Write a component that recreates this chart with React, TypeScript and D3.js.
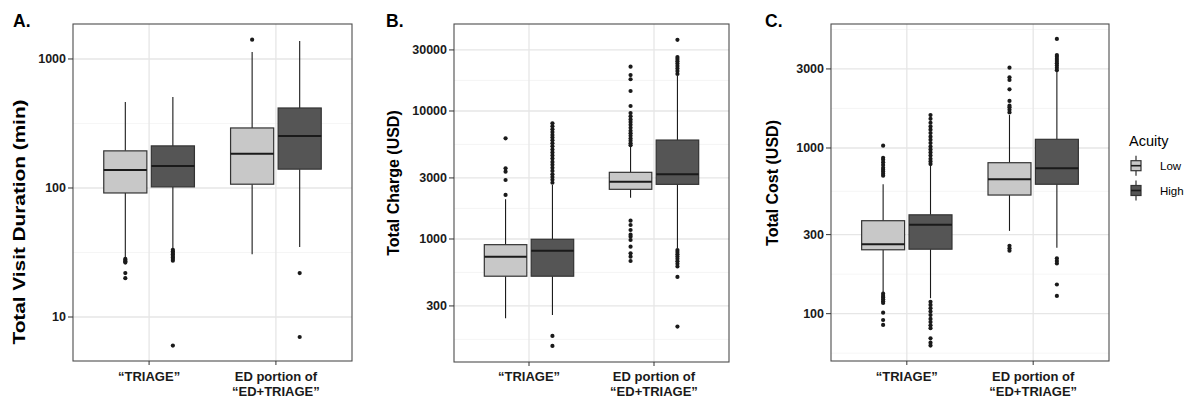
import React from "react";
import * as d3 from "d3";

const groups = ["“TRIAGE”", "ED portion of\n“ED+TRIAGE”"];
const acuityLevels = ["Low", "High"];
const acuityFill: Record<string, string> = { Low: "#c8c8c8", High: "#555555" };

// each box: [lower whisker, q1, median, q3, upper whisker], one per group
const durationLow = [[28.6, 91.5, 138, 194, 464], [30.7, 107, 184, 292, 1133]];
const durationHigh = [[34, 102, 148, 212, 507], [34.9, 140, 253, 417, 1379]];
const durationLowOut = [[28.2, 27.6, 27, 26.4, 21.9, 20], [1412]];
const durationHighOut = [[33.2, 32.3, 31.4, 30.6, 29.7, 28.9, 28.1, 27.3, 6], [21.9, 7]];
const durationTicks = [10, 100, 1000];
const durationMinor = [31.62, 316.2];

const chargeLow = [[240, 512, 728, 903, 2042], [2102, 2444, 2806, 3318, 5260]];
const chargeHigh = [[255, 512, 811, 995, 2643], [846, 2673, 3200, 5930, 18750]];
const chargeLowOut = [
  [2208, 2891, 3357, 3565, 6120],
  [5400, 5600, 5850, 6100, 6400, 6700, 7000, 7400, 7800, 8200, 8600, 9100, 9640, 10940, 14330, 17700, 19100, 22180,
    1390, 1286, 1176, 1080, 1042, 982, 871, 773, 728, 673],
];
const chargeHighOut = [
  [2750, 2900, 3050, 3200, 3400, 3600, 3800, 4000, 4250, 4500, 4750, 5000, 5300, 5600, 5900, 6200, 6500, 6850, 7200,
    7600, 8020, 175, 146],
  [19500, 20500, 21500, 22500, 23500, 24500, 25500, 26400, 36000, 820, 790, 760, 730, 700, 670, 640, 610, 505, 207],
];
const chargeTicks = [300, 1000, 3000, 10000, 30000];
const chargeMinor = [164.3, 547.7, 1732, 5477, 17320];

const costLow = [[134.6, 243, 262, 364, 604], [316, 520, 647, 815, 1581]];
const costHigh = [[124, 245, 344, 395, 789], [250, 604, 754, 1128, 2884]];
const costLowOut = [
  [681, 700, 720, 740, 760, 790, 820, 850, 873, 1033, 132, 128, 125, 122, 119, 116, 101.4, 91.6, 85.5],
  [1640, 1700, 1760, 1800, 1923, 2260, 2572, 2670, 3055, 257, 248, 240],
];
const costHighOut = [
  [800, 830, 860, 900, 940, 980, 1020, 1070, 1120, 1170, 1230, 1290, 1350, 1420, 1500, 1581,
    118, 113, 108, 103, 98, 93, 89, 85, 81.7, 71, 66.8, 64.2],
  [2950, 3050, 3150, 3250, 3350, 3450, 3550, 3640, 4550, 216, 208, 201, 150, 128],
];
const costTicks = [100, 300, 1000, 3000];
const costMinor = [57.77, 173.2, 547.7, 1732, 5195];

const panels = [
  {
    letter: "A.", letterX: 13, title: "Total Visit Duration (min)", titleX: 25, titleY: 222, titleLen: 245,
    left: 73, right: 352, top: 24, bottom: 361, domain: [4.56, 1867],
    ticks: durationTicks, minor: durationMinor,
    low: durationLow, high: durationHigh, lowOut: durationLowOut, highOut: durationHighOut,
  },
  {
    letter: "B.", letterX: 386, title: "Total Charge (USD)", titleX: 399, titleY: 183, titleLen: 0,
    left: 454, right: 729, top: 24, bottom: 362, domain: [109.4, 47830],
    ticks: chargeTicks, minor: chargeMinor,
    low: chargeLow, high: chargeHigh, lowOut: chargeLowOut, highOut: chargeHighOut,
  },
  {
    letter: "C.", letterX: 765, title: "Total Cost (USD)", titleX: 778, titleY: 183, titleLen: 0,
    left: 831, right: 1109, top: 24, bottom: 361, domain: [51.8, 5602],
    ticks: costTicks, minor: costMinor,
    low: costLow, high: costHigh, lowOut: costLowOut, highOut: costHighOut,
  },
];

const font = "'Liberation Sans', Arial, Helvetica, sans-serif";
const ink = "#1a1a1a";

function Panel({ p }: { p: any }) {
  const x = d3.scaleLinear().domain([0.4, 2.6]).range([p.left, p.right]);
  const y = d3.scaleLog().domain(p.domain).range([p.bottom, p.top]);
  const dodge = d3.scaleOrdinal<string, number>().domain(acuityLevels).range([-0.1875, 0.1875]);
  const half = 0.17;

  const boxes: any[] = [];
  groups.forEach((g, gi) => {
    acuityLevels.forEach((a) => {
      const stats = a === "Low" ? p.low[gi] : p.high[gi];
      const outs = a === "Low" ? p.lowOut[gi] : p.highOut[gi];
      boxes.push({ key: `${gi}-${a}`, cx: gi + 1 + dodge(a), a, stats, outs });
    });
  });

  return (
    <g>
      <text x={p.letterX} y={27} fontFamily={font} fontWeight="bold" fontSize={17.5} fill="#000">{p.letter}</text>
      <rect x={p.left} y={p.top} width={p.right - p.left} height={p.bottom - p.top} fill="#fff" />
      {p.minor.map((v: number) => (
        <line key={"mn" + v} x1={p.left} x2={p.right} y1={y(v)} y2={y(v)} stroke="#f0f0f0" strokeWidth={0.7} />
      ))}
      {p.ticks.map((v: number) => (
        <line key={"mj" + v} x1={p.left} x2={p.right} y1={y(v)} y2={y(v)} stroke="#e6e6e6" strokeWidth={1.3} />
      ))}
      {groups.map((g, gi) => (
        <line key={"vx" + gi} x1={x(gi + 1)} x2={x(gi + 1)} y1={p.top} y2={p.bottom} stroke="#e6e6e6" strokeWidth={1.3} />
      ))}
      {boxes.map((b) => {
        const [lo, q1, med, q3, hi] = b.stats;
        const cx = x(b.cx);
        const x0 = x(b.cx - half);
        const x1 = x(b.cx + half);
        return (
          <g key={b.key}>
            <line x1={cx} x2={cx} y1={y(hi)} y2={y(q3)} stroke={ink} strokeWidth={1.1} />
            <line x1={cx} x2={cx} y1={y(q1)} y2={y(lo)} stroke={ink} strokeWidth={1.1} />
            <rect x={x0} y={y(q3)} width={x1 - x0} height={y(q1) - y(q3)} fill={acuityFill[b.a]} stroke="#333" strokeWidth={1.2} />
            <line x1={x0} x2={x1} y1={y(med)} y2={y(med)} stroke={ink} strokeWidth={2} />
            {b.outs.map((v: number, i: number) => (
              <circle key={i} cx={cx} cy={y(v)} r={2.1} fill={ink} />
            ))}
          </g>
        );
      })}
      <rect x={p.left} y={p.top} width={p.right - p.left} height={p.bottom - p.top} fill="none" stroke="#4d4d4d" strokeWidth={1.1} />
      {p.ticks.map((v: number) => (
        <g key={"t" + v}>
          <line x1={p.left - 5} x2={p.left} y1={y(v)} y2={y(v)} stroke="#333" strokeWidth={1} />
          <text x={p.left - 7} y={y(v)} dy="0.35em" textAnchor="end" fontFamily={font} fontWeight="bold" fontSize={12.5} fill={ink}>
            {d3.format("d")(v)}
          </text>
        </g>
      ))}
      {groups.map((g, gi) => (
        <g key={"xl" + gi}>
          <line x1={x(gi + 1)} x2={x(gi + 1)} y1={p.bottom} y2={p.bottom + 4} stroke="#333" strokeWidth={1} />
          <text x={x(gi + 1)} y={381} textAnchor="middle" fontFamily={font} fontWeight="bold" fontSize={13} fill={ink}>
            {g.split("\n").map((line, li) => (
              <tspan key={li} x={x(gi + 1)} dy={li === 0 ? 0 : 14.5}>{line}</tspan>
            ))}
          </text>
        </g>
      ))}
      <text
        transform={`translate(${p.titleX},${p.titleY}) rotate(-90)`}
        textAnchor="middle"
        fontFamily={font}
        fontWeight="bold"
        fontSize={16}
        fill="#000"
        {...(p.titleLen ? { textLength: p.titleLen, lengthAdjust: "spacingAndGlyphs" } : {})}
      >
        {p.title}
      </text>
    </g>
  );
}

function Legend() {
  const keyX = 1136;
  const keyY = d3.scaleOrdinal<string, number>().domain(acuityLevels).range([165.7, 190.5]);
  return (
    <g>
      <text x={1129} y={146} fontFamily={font} fontSize={14.5} fill="#000">Acuity</text>
      {acuityLevels.map((a) => {
        const cy = keyY(a);
        return (
          <g key={a}>
            <line x1={keyX} x2={keyX} y1={cy - 10} y2={cy + 10} stroke={ink} strokeWidth={1.1} />
            <rect x={keyX - 5} y={cy - 5} width={10} height={10} fill={acuityFill[a]} stroke="#333" strokeWidth={1.2} />
            <line x1={keyX - 5} x2={keyX + 5} y1={cy} y2={cy} stroke={ink} strokeWidth={1.6} />
            <text x={1160} y={cy} dy="0.35em" fontFamily={font} fontSize={11.5} fill="#000">{a}</text>
          </g>
        );
      })}
    </g>
  );
}

export default function App() {
  return (
    <svg width={1186} height={398} style={{ position: "absolute", left: 0, top: 0, background: "#fff" }}>
      <rect width={1186} height={398} fill="#fff" />
      {panels.map((p) => (
        <Panel key={p.letter} p={p} />
      ))}
      <Legend />
    </svg>
  );
}
